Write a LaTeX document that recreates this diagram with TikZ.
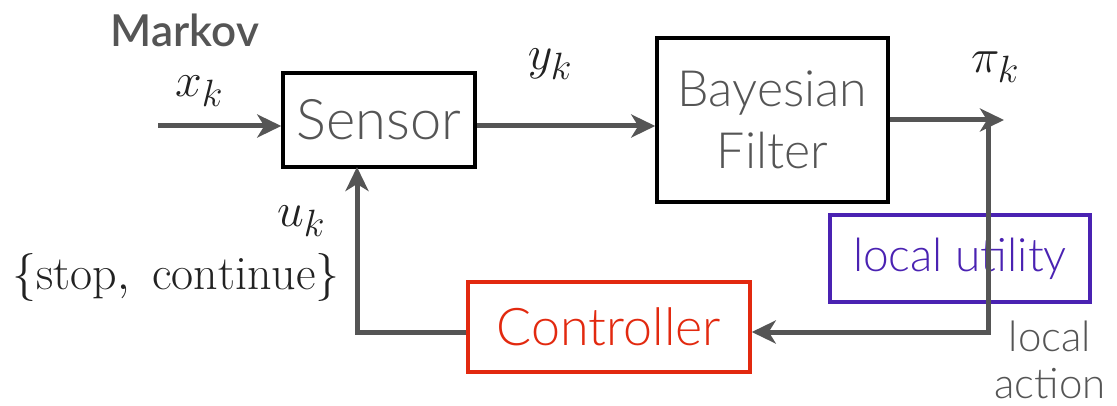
\RequirePackage{fix-cm}
\documentclass[tikz,border=0pt]{standalone}
\usepackage{fontspec}
\newfontfamily\gill{Lato Light}
\newfontfamily\gillmed{Lato Semibold}
\usetikzlibrary{arrows.meta}
\DeclareMathSizes{48}{48}{38}{30}
\definecolor{linegray}{HTML}{555555}
\definecolor{ctrlred}{HTML}{E2290F}
\definecolor{utilpurple}{HTML}{4A22B2}
\definecolor{mathink}{HTML}{222222}
\tikzset{
  blockbox/.style={draw=black, line width=3.5pt, inner sep=0pt, text=linegray},
  flow/.style={draw=linegray, line width=5pt},
  arr/.style={flow, -{Stealth[length=24pt,width=23pt,inset=7pt]}},
  mathlabel/.style={text=mathink, inner sep=0pt, font=\fontsize{48}{54}\selectfont},
}
\begin{document}
\begin{tikzpicture}[x=1pt, y=-1pt]
\useasboundingbox (0,0) rectangle (1117,406);

% blocks
\node[blockbox, minimum width=192pt, minimum height=94pt, font=\gill\fontsize{56}{60}\selectfont] (sensor) at (379,120) {Sensor};
\node[blockbox, minimum width=231pt, minimum height=164pt, align=center, font=\gill\fontsize{50}{62}\selectfont] (bayes) at (772.5,120) {Bayesian\\Filter};
\node[blockbox, draw=ctrlred, text=ctrlred, minimum width=282pt, minimum height=90pt, font=\gill\fontsize{52}{56}\selectfont] (ctrl) at (609,327) {Controller};
\node[blockbox, draw=utilpurple, line width=4pt, text=utilpurple, minimum width=260pt, minimum height=87pt, font=\gill\fontsize{46}{50}\selectfont] (util) at (960,258.5) {local utility};

% labels
\node[text=linegray, inner sep=0pt, font=\gillmed\fontsize{44}{48}\selectfont] (markov) at (185,30) {Markov};
\node[mathlabel] (xk) at (199,91) {$x_k$};
\node[mathlabel] (yk) at (550,64) {$y_k$};
\node[mathlabel] (pik) at (995,67) {$\pi_k$};
\node[mathlabel] (uk) at (301,221) {$u_k$};
\node[mathlabel] (choice) at (176,278) {$\{\mathrm{stop},\ \mathrm{continue}\}$};
\node[text=linegray, inner sep=0pt, align=center, font=\gill\fontsize{42}{47}\selectfont] (act) at (1050,360) {local\\action};

% connectors
\coordinate (xin) at (158,126);
\coordinate (piout) at (1004,120);
\coordinate (tap) at (988,120);
\coordinate (turn) at (988,332);
\coordinate (ucorner) at (357,332);
\coordinate (uin) at (357,167);

\draw[arr] (xin) -- (sensor.west |- xin);
\draw[arr] (sensor.east |- xin) -- (bayes.west |- xin);
\draw[arr] (bayes.east |- piout) -- (piout);
\draw[arr] (tap) -- (turn) -- (ctrl.east |- turn);
\draw[arr] (ctrl.west |- ucorner) -- (ucorner) -- (uin);
\end{tikzpicture}
\end{document}
